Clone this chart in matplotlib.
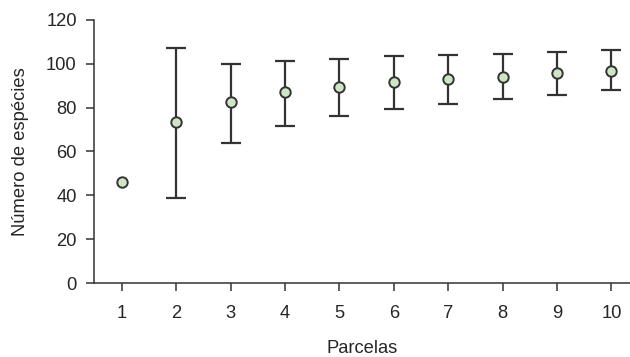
import matplotlib
matplotlib.use("Agg")
import matplotlib.pyplot as plt

parcelas = [1, 2, 3, 4, 5, 6, 7, 8, 9, 10]
media = [46.2, 73.3, 82.4, 87.0, 89.5, 91.5, 93.2, 94.1, 95.9, 96.8]
superior = [46.2, 107.1, 100.1, 101.2, 102.3, 103.8, 103.9, 104.7, 105.3, 106.2]
inferior = [46.2, 38.9, 63.9, 71.5, 76.4, 79.5, 81.9, 84.1, 85.9, 87.9]
yticks = [0, 20, 40, 60, 80, 100, 120]

plt.rcParams['font.family'] = ['Liberation Sans', 'DejaVu Sans']
dark = '#333333'
txt = '#262626'
fs = 13.2

fig = plt.figure(figsize=(6.3, 3.57), dpi=100)
ax = fig.add_axes([94/630, 1-283/357, 1-94/630, (283-20)/357])

err_lo = [m - l for m, l in zip(media, inferior)]
err_hi = [u - m for m, u in zip(media, superior)]
# first point has no error bar
ax.errorbar(parcelas[1:], media[1:], yerr=[err_lo[1:], err_hi[1:]], fmt='none',
            ecolor=dark, elinewidth=1.6, capsize=7.5, capthick=1.6, zorder=2)
ax.plot(parcelas, media, 'o', ms=7.5, mfc='#cfe6c6', mec=dark, mew=1.4,
        linestyle='none', zorder=3)

ax.set_xlim(0.49, 10.34)
ax.set_ylim(0, 120)
ax.set_xticks(parcelas)
ax.set_yticks(yticks)
for s in ['top', 'right']:
    ax.spines[s].set_visible(False)
for s in ['left', 'bottom']:
    ax.spines[s].set_color(dark)
    ax.spines[s].set_linewidth(1.1)
ax.tick_params(axis='both', direction='out', length=5.5, width=1.1,
               color=dark, labelsize=fs, labelcolor=txt)
ax.tick_params(axis='x', pad=10.5)
ax.tick_params(axis='y', pad=7)
ax.set_xlabel('Parcelas', fontsize=fs, color=txt, labelpad=12.5)
ax.set_ylabel('Número de espécies', fontsize=fs, color=txt, labelpad=12)

fig.savefig('out.png', dpi=100)
